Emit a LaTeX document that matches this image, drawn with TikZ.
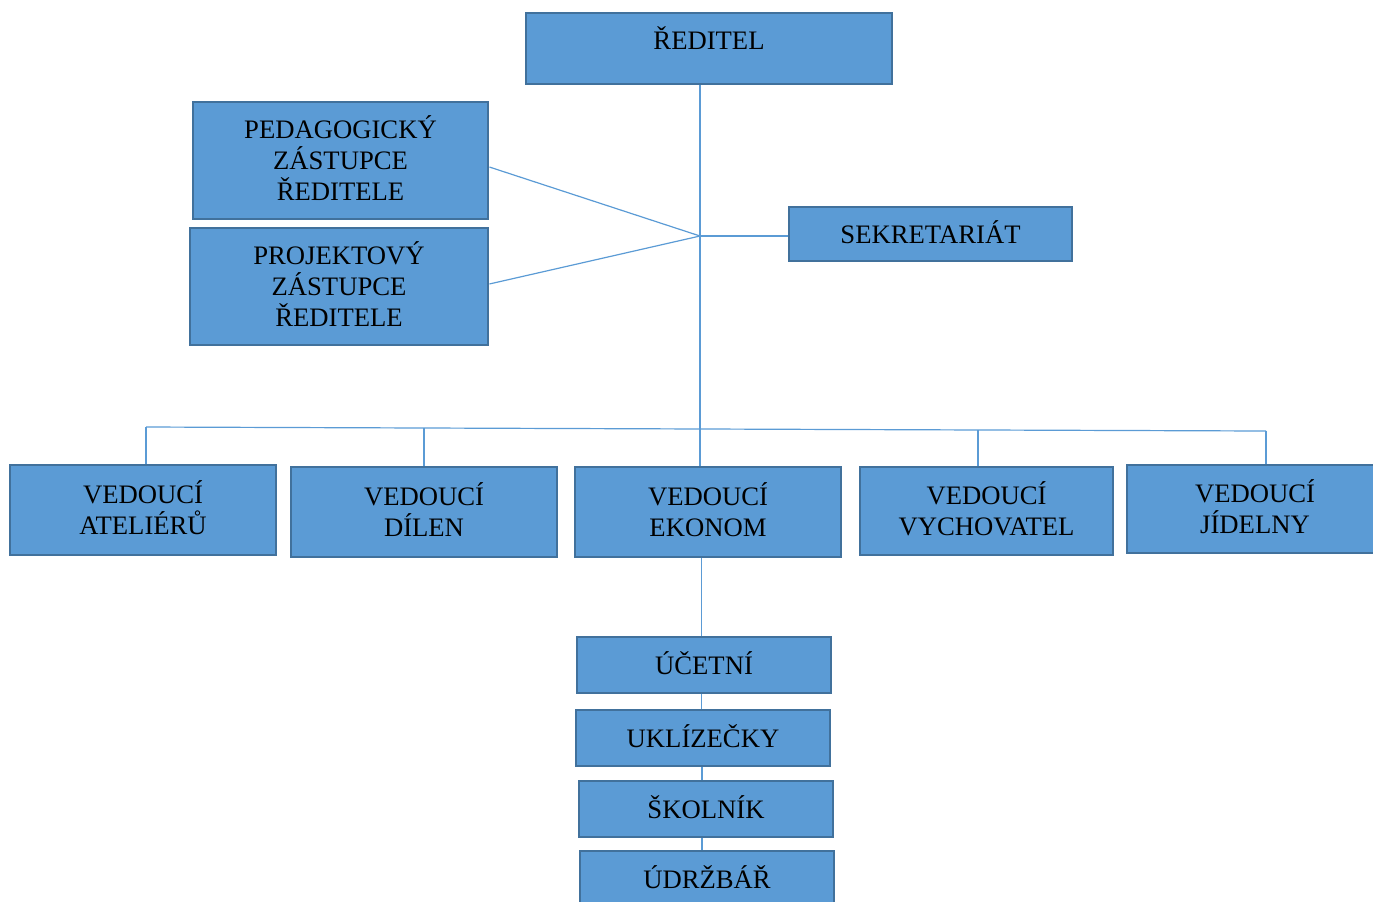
\documentclass[tikz,border=0pt]{standalone}
\usepackage{fontspec}
\setmainfont{Liberation Serif}
\definecolor{boxfill}{HTML}{5B9BD5}
\definecolor{boxedge}{HTML}{41719C}
\definecolor{wire}{HTML}{5B9BD5}
\tikzset{
  orgbox/.style={draw=boxedge, fill=boxfill, line width=2.2pt, rectangle,
    inner sep=0pt, align=center, text=black,
    font=\fontsize{20}{23.25}\selectfont},
  wirel/.style={draw=wire, line width=0.9pt},
}
% box with centred text; the invisible rule lifts the caps to the optical middle
\newcommand\bx[6]{% name, cx, cy, w, h, text
  \node[orgbox, minimum width=#4*0.75pt, minimum height=#5*0.75pt] (#1) at (#2,#3)
    {#6\rule[-3.6pt]{0pt}{0pt}};}
\begin{document}
\begin{tikzpicture}[x=0.75pt, y=-0.75pt]
  \useasboundingbox (0,0) rectangle (1373,901);
  \clip (0,0) rectangle (1373,901);

  % junction points of the connectors
  \coordinate (hub) at (700,236);
  \coordinate (bA) at (146,427);
  \coordinate (bB) at (424,428);
  \coordinate (bC) at (700,429);
  \coordinate (bD) at (978,430);
  \coordinate (bE) at (1266,431);

  % boxes
  \node[orgbox, minimum width=366*0.75pt, minimum height=71*0.75pt,
        label={[font=\fontsize{20}{23.25}\selectfont, yshift=7.9pt]center:ŘEDITEL}]
        (dir) at (709,48.5) {};
  \bx{ped}{340.5}{160.5}{295}{117}{PEDAGOGICKÝ\\ZÁSTUPCE\\ŘEDITELE}
  \bx{proj}{339}{286.5}{298}{117}{PROJEKTOVÝ\\ZÁSTUPCE\\ŘEDITELE}
  \bx{sek}{930.5}{234}{283}{54}{SEKRETARIÁT}
  \bx{ate}{143}{510}{266}{90}{VEDOUCÍ\\ATELIÉRŮ}
  \bx{dil}{424}{512}{266}{90}{VEDOUCÍ\\DÍLEN}
  \bx{eko}{708}{512}{266}{90}{VEDOUCÍ\\EKONOM}
  \bx{vych}{986.5}{511}{253}{88}{VEDOUCÍ\\VYCHOVATEL}
  \bx{jid}{1255}{509}{256}{88}{VEDOUCÍ\\JÍDELNY}
  \bx{uce}{704}{665}{254}{56}{ÚČETNÍ}
  \bx{ukl}{703}{738}{254}{56}{UKLÍZEČKY}
  \bx{sko}{706}{809}{254}{56}{ŠKOLNÍK}
  \bx{udr}{707}{879}{254}{56}{ÚDRŽBÁŘ}

  % connectors
  \draw[wirel] (hub |- dir.south) -- (bC);
  \draw[wirel] ([yshift=-4.9pt]ped.east) -- (hub);
  \draw[wirel] ([yshift=1.9pt]proj.east) -- (hub);
  \draw[wirel] (hub) -- (sek.west |- hub);
  \draw[wirel] (bA) -- (bE);
  \draw[wirel] (bA) -- (bA |- ate.north);
  \draw[wirel] (bB) -- (bB |- dil.north);
  \draw[wirel] (bC) -- (bC |- eko.north);
  \draw[wirel] (bD) -- (bD |- vych.north);
  \draw[wirel] (bE) -- (bE |- jid.north);
  \draw[wirel] ([xshift=1pt]hub |- eko.south) -- ([xshift=1pt]hub |- uce.north);
  \draw[wirel] ([xshift=1pt]hub |- uce.south) -- ([xshift=1pt]hub |- ukl.north);
  \draw[wirel] ([xshift=1.5pt]hub |- ukl.south) -- ([xshift=1.5pt]hub |- sko.north);
  \draw[wirel] ([xshift=1.5pt]hub |- sko.south) -- ([xshift=1.5pt]hub |- udr.north);
\end{tikzpicture}
\end{document}
